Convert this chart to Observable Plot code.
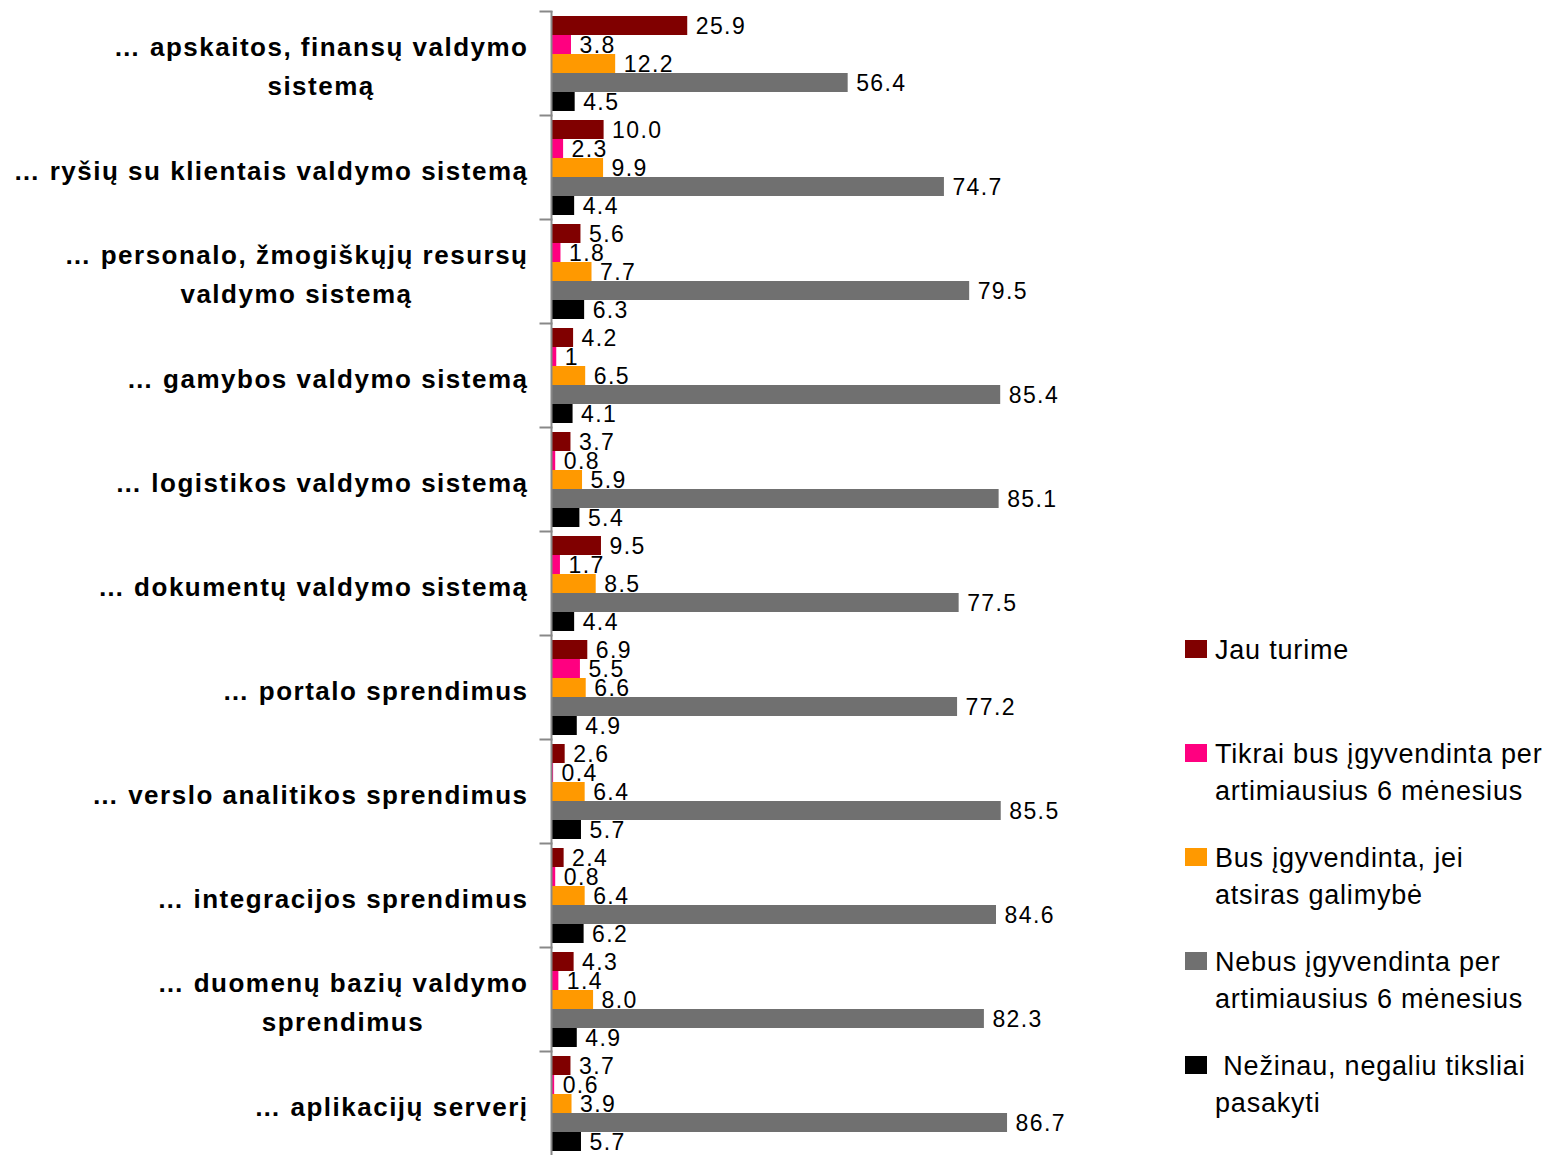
<!DOCTYPE html>
<html>
<head>
<meta charset="utf-8">
<script src="https://cdn.jsdelivr.net/npm/d3@7"></script>
<script src="https://cdn.jsdelivr.net/npm/@observablehq/plot@0.6"></script>
<style>
  body { margin: 0; background: #fff; }
  #wrap { position: relative; width: 1557px; height: 1155px; overflow: hidden; font-family: "Liberation Sans", Arial, sans-serif; }
  #chart { position: absolute; left: 0; top: 0; }
  #legend { position: absolute; left: 1185px; top: 632px; width: 372px; font-size: 27px; letter-spacing: 0.8px; line-height: 37px; color: #000; }
  .item { position: relative; height: 104px; padding-left: 30px; white-space: nowrap; }
  .sw { position: absolute; left: 0; top: 8px; width: 22px; height: 18px; }
</style>
</head>
<body>
<div id="wrap"><div id="chart"></div><div id="legend"></div></div>
<script>
const categories = [
  "… apskaitos, finansų valdymo\nsistemą",
  "… ryšių su klientais valdymo sistemą",
  "… personalo, žmogiškųjų resursų\nvaldymo sistemą",
  "… gamybos valdymo sistemą",
  "… logistikos valdymo sistemą",
  "… dokumentų valdymo sistemą",
  "… portalo sprendimus",
  "… verslo analitikos sprendimus",
  "… integracijos sprendimus",
  "… duomenų bazių valdymo\nsprendimus",
  "… aplikacijų serverį"
];
const seriesNames = [
  "Jau turime",
  "Tikrai bus įgyvendinta per artimiausius 6 mėnesius",
  "Bus įgyvendinta, jei atsiras galimybė",
  "Nebus įgyvendinta per artimiausius 6 mėnesius",
  " Nežinau, negaliu tiksliai pasakyti"
];
const legendLabels = [
  "Jau turime",
  "Tikrai bus įgyvendinta per<br>artimiausius 6 mėnesius",
  "Bus įgyvendinta, jei<br>atsiras galimybė",
  "Nebus įgyvendinta per<br>artimiausius 6 mėnesius",
  "&nbsp;Nežinau, negaliu tiksliai<br>pasakyti"
];
const colors = ["#800000", "#FF0080", "#FF9900", "#707070", "#000000"];
const jauTurime   = ["25.9","10.0","5.6","4.2","3.7","9.5","6.9","2.6","2.4","4.3","3.7"];
const tikraiBus   = ["3.8","2.3","1.8","1","0.8","1.7","5.5","0.4","0.8","1.4","0.6"];
const busJei      = ["12.2","9.9","7.7","6.5","5.9","8.5","6.6","6.4","6.4","8.0","3.9"];
const nebus       = ["56.4","74.7","79.5","85.4","85.1","77.5","77.2","85.5","84.6","82.3","86.7"];
const nezinau     = ["4.5","4.4","6.3","4.1","5.4","4.4","4.9","5.7","6.2","4.9","5.7"];
const seriesValues = [jauTurime, tikraiBus, busJei, nebus, nezinau];

const rows = [];
categories.forEach((c, i) => {
  seriesNames.forEach((s, j) => {
    rows.push({cat: c, series: s, value: +seriesValues[j][i], label: seriesValues[j][i]});
  });
});

const W = 1170, H = 1155, ML = 551, MR = 93;
const plot = Plot.plot({
  width: W,
  height: H,
  marginLeft: ML,
  marginRight: MR,
  marginTop: 10,
  marginBottom: 0,
  style: {fontFamily: '"Liberation Sans", Arial, sans-serif', background: "white", color: "#000"},
  x: {domain: [0, 100], axis: null},
  fy: {domain: categories, axis: null, padding: 0},
  y: {domain: seriesNames, axis: null, paddingInner: 0, paddingOuter: 0.23},
  color: {domain: seriesNames, range: colors},
  marks: [
    Plot.barX(rows, {fy: "cat", y: "series", x: "value", fill: "series"}),
    Plot.text(rows, {fy: "cat", y: "series", x: "value", text: "label", textAnchor: "start", dx: 8, dy: 1, fontSize: 23, fill: "#000", fontWeight: "normal"}),
    Plot.ruleX([0], {stroke: "#888", strokeWidth: 2}),
    Plot.frame({anchor: "top", stroke: "#888", strokeWidth: 2, insetLeft: -11, insetRight: W - ML - MR}),
    Plot.text(categories, {fy: d => d, text: d => d, frameAnchor: "left", textAnchor: "end", dx: -23, fontSize: 26, fontWeight: "bold", lineHeight: 1.5, fill: "#000"})
  ]
});
document.getElementById("chart").appendChild(plot);

// value labels: slightly wider letter spacing like the reference
plot.querySelectorAll('g[font-weight="normal"]').forEach(g => g.setAttribute("letter-spacing", "1.4"));

// category labels: letter spacing, then center multi-line labels on their longest line
plot.querySelectorAll('g[font-weight="bold"]').forEach(g => {
  g.setAttribute("letter-spacing", "1.5");
  g.querySelectorAll("text").forEach(t => {
    const w = t.getBBox().width;
    t.setAttribute("text-anchor", "middle");
    const tr = t.getAttribute("transform") || "";
    t.setAttribute("transform", tr + ` translate(${-w / 2},0)`);
  });
});

const legend = document.getElementById("legend");
seriesNames.forEach((s, j) => {
  const d = document.createElement("div");
  d.className = "item";
  d.innerHTML = `<span class="sw" style="background:${colors[j]}"></span>${legendLabels[j]}`;
  legend.appendChild(d);
});
</script>
</body>
</html>
